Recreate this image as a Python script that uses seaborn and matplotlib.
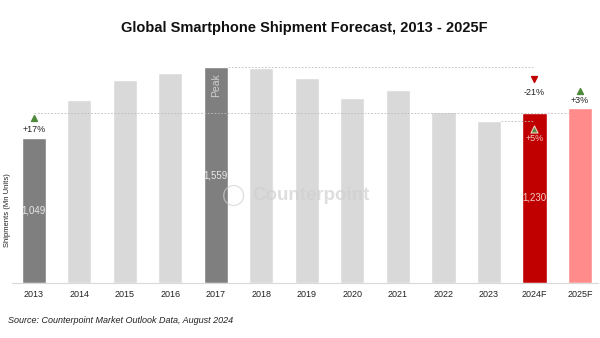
import matplotlib
matplotlib.use("Agg")
import matplotlib.pyplot as plt
import seaborn as sns
import numpy as np

years = ["2013", "2014", "2015", "2016", "2017", "2018", "2019", "2020", "2021", "2022", "2023", "2024F", "2025F"]
shipments = [1049, 1322, 1467, 1520, 1559, 1551, 1483, 1334, 1394, 1233, 1172, 1230, 1262]
bar_colors = ["#7f7f7f", "#d9d9d9", "#d9d9d9", "#d9d9d9", "#7f7f7f", "#d9d9d9", "#d9d9d9",
              "#d9d9d9", "#d9d9d9", "#d9d9d9", "#d9d9d9", "#c00000", "#ff8b8b"]
value_labels = {"2013": "1,049", "2017": "1,559", "2024F": "1,230"}

sns.set_theme(style="white")
plt.rcParams['font.family'] = ['Liberation Sans', 'DejaVu Sans']

fig = plt.figure(figsize=(6, 3.38), dpi=100)
ax = fig.add_axes([0.02, 0.1636, 0.977, 0.6953])

sns.barplot(x=years, y=shipments, hue=years, palette=bar_colors, legend=False,
            width=0.53, saturation=1, ax=ax)

ax.set_xlim(-0.48, 12.40)
ax.set_ylim(0, 1700)
ax.set_yticks([])
ax.set_ylabel("")
for s in ["top", "right", "left"]:
    ax.spines[s].set_visible(False)
ax.spines["bottom"].set_color("#d9d9d9")
ax.spines["bottom"].set_linewidth(0.8)
ax.tick_params(axis="x", length=0, labelsize=6.5, colors="#222222", pad=5)

idx = {y: i for i, y in enumerate(years)}
# value labels inside bars
ax.text(idx["2013"], 521, value_labels["2013"], ha="center", va="center", color="#e8e8e8", fontsize=7)
ax.text(idx["2017"], 779, value_labels["2017"], ha="center", va="center", color="#e8e8e8", fontsize=7)
ax.text(idx["2024F"], 613, value_labels["2024F"], ha="center", va="center", color="#f4cccc", fontsize=7)
ax.text(idx["2017"], 1430, "Peak", ha="center", va="center", rotation=90, color="#cfcfcf", fontsize=7.5)

# dashed reference lines
v2017 = shipments[idx["2017"]]
v2024 = shipments[idx["2024F"]]
v2023 = shipments[idx["2023"]]
ax.hlines(v2017, idx["2017"] + 0.27, idx["2024F"], colors="#bbbbbb", linestyles=(0, (2, 2)), linewidth=0.6)
ax.hlines(v2024, idx["2013"], idx["2025F"] - 0.27, colors="#bbbbbb", linestyles=(0, (2, 2)), linewidth=0.6)
ax.hlines(v2023, idx["2023"] + 0.27, idx["2024F"], colors="#bbbbbb", linestyles=(0, (2, 2)), linewidth=0.6)

# growth annotations
ax.scatter([idx["2013"]], [1190], marker="^", s=18, color="#4f8a3a", zorder=5)
ax.text(idx["2013"], 1105, "+17%", ha="center", va="center", fontsize=6.5, color="#222222")
ax.scatter([idx["2024F"]], [1472], marker="v", s=18, color="#c00000", zorder=5)
ax.text(idx["2024F"], 1375, "-21%", ha="center", va="center", fontsize=6.5, color="#222222")
ax.scatter([idx["2024F"]], [1112], marker="^", s=26, color="#5e8a45", edgecolors="#f0d0c0", linewidths=0.8, zorder=5)
ax.text(idx["2024F"], 1040, "+5%", ha="center", va="center", fontsize=6.5, color="#f4cccc")
ax.scatter([idx["2025F"]], [1387], marker="^", s=18, color="#4f8a3a", zorder=5)
ax.text(idx["2025F"], 1315, "+3%", ha="center", va="center", fontsize=6.5, color="#222222")

# watermark
fig.text(0.389, 0.423, "\u25EF", ha="center", va="center", fontsize=15, color="#d0d0d0", alpha=0.7,
         family=["DejaVu Sans"])
fig.text(0.42, 0.423, "Counterpoint", ha="left", va="center", fontsize=13.5, fontweight="bold",
         color="#d0d0d0", alpha=0.7)

fig.text(0.508, 0.917, "Global Smartphone Shipment Forecast, 2013 - 2025F", ha="center", va="center",
         fontsize=10.5, fontweight="bold", color="#111111")
fig.text(0.012, 0.379, "Shipments (Mn Units)", rotation=90, ha="center", va="center", fontsize=5.5,
         color="#222222")
fig.text(0.013, 0.053, "Source: Counterpoint Market Outlook Data, August 2024", ha="left", va="center",
         fontsize=6.5, style="italic", color="#222222")

fig.savefig("out.png", dpi=100)
